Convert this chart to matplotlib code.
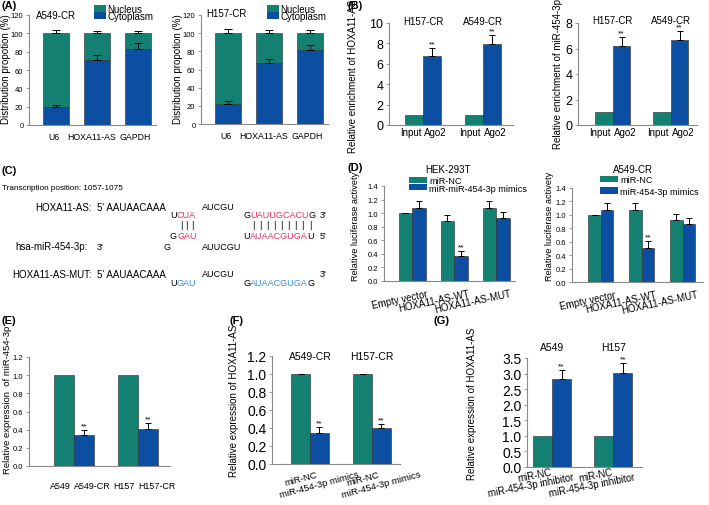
import matplotlib
matplotlib.use('Agg')
import matplotlib.pyplot as plt
from matplotlib.patches import Patch
from matplotlib.transforms import ScaledTranslation
import numpy as np

plt.rcParams['font.family'] = ['Liberation Sans', 'DejaVu Sans']

TEAL = '#138072'
BLUE = '#0b4ea2'
EDGE = '#2a2a2a'
AXC = '#8a8a8a'
RED = '#e63462'
LBLUE = '#3b8fdc'

# ---- data ----
# (A) nuclear / cytoplasmic fractionation (% cytoplasm, rest nucleus)
frac_genes = ['U6', 'HOXA11-AS', 'GAPDH']
a549_cyto = [20, 71, 83]
a549_cyto_err = [2, 5, 6]
a549_total_err = [4, 3, 3]
h157_cyto = [22, 67, 81]
h157_cyto_err = [3, 5, 6]
h157_total_err = [5, 4, 4]

# (B) RIP assay
rip_cells = ['H157-CR', 'A549-CR']
rip_groups = ['Input', 'Ago2']
rip_input = [1, 1]
hoxa_ago2 = [6.8, 7.9]
hoxa_ago2_err = [0.75, 0.9]
mir_ago2 = [6.2, 6.65]
mir_ago2_err = [0.7, 0.75]

# (D) luciferase reporter
luc_constructs = ['Empty vector', 'HOXA11-AS-WT', 'HOXA11-AS-MUT']
hek_nc = [1.0, 0.88, 1.07]
hek_nc_err = [0.0, 0.10, 0.11]
hek_mimic = [1.07, 0.37, 0.93]
hek_mimic_err = [0.11, 0.07, 0.09]
a549_nc = [1.0, 1.07, 0.92]
a549_nc_err = [0.0, 0.11, 0.10]
a549_mimic = [1.07, 0.51, 0.86]
a549_mimic_err = [0.11, 0.10, 0.09]

# (E) miR-454-3p in parental vs resistant
parent_cells = ['A549', 'H157']
resist_cells = ['A549-CR', 'H157-CR']
mir_parent = [1.0, 1.0]
mir_resist = [0.34, 0.41]
mir_resist_err = [0.06, 0.06]

# (F) HOXA11-AS after mimics
f_cells = ['A549-CR', 'H157-CR']
f_nc = [1.0, 1.0]
f_nc_err = [0.005, 0.005]
f_mimic = [0.35, 0.40]
f_mimic_err = [0.06, 0.05]

# (G) HOXA11-AS after inhibitor
g_cells = ['A549', 'H157']
g_nc = [1.0, 1.0]
g_inhib = [2.82, 3.03]
g_inhib_err = [0.3, 0.32]

W, H = 709, 506
fig = plt.figure(figsize=(W / 100, H / 100), dpi=100)
tax = fig.add_axes([0, 0, 1, 1])
tax.axis('off')


def px_axes(x0, y0, x1, y1):
    return fig.add_axes([x0 / W, 1 - y1 / H, (x1 - x0) / W, (y1 - y0) / H])


def ftext(x, y, s, **kw):
    kw.setdefault('va', 'center')
    return fig.text(x / W, 1 - y / H, s, **kw)


def style(ax, ylim, yticks, fmt, fs):
    for s in ('top', 'right'):
        ax.spines[s].set_visible(False)
    for s in ('left', 'bottom'):
        ax.spines[s].set_color(AXC)
        ax.spines[s].set_linewidth(0.8)
    ax.set_ylim(*ylim)
    ax.set_yticks(yticks)
    ax.set_yticklabels([fmt % v for v in yticks])
    ax.tick_params(axis='y', length=2.5, width=0.6, color=AXC, labelsize=fs, pad=1.5)
    ax.tick_params(axis='x', length=0, pad=2)
    ax.patch.set_alpha(0)


def err(ax, x, y, e, cap=2.5):
    ax.errorbar(x, y, yerr=[np.zeros(len(e)), e], fmt='none', ecolor='black',
                elinewidth=0.7, capsize=cap, capthick=0.7)


def stars(ax, x, y, e, pad, fs=6):
    for xi, yi, ei in zip(x, y, e):
        ax.text(xi, yi + ei + pad, '**', ha='center', va='bottom', fontsize=fs)


def legend(x, y, labels, fs, hl, hh, sp):
    hs = [Patch(facecolor=TEAL, edgecolor='none'), Patch(facecolor=BLUE, edgecolor='none')]
    fig.legend(hs, labels, loc='upper left', bbox_to_anchor=(x / W, 1 - y / H),
               frameon=False, fontsize=fs, handlelength=hl, handleheight=hh,
               handletextpad=0.2, labelspacing=sp, borderpad=0, borderaxespad=0)


def nudge(labels, dx, dy=0):
    for lab in labels:
        lab.set_transform(lab.get_transform() + ScaledTranslation(dx / 100, dy / 100, fig.dpi_scale_trans))


def split_labels(ax, g, left, right, dy, fs, gap_l=-3, gap_r=0):
    # pair of labels meeting at the boundary between the two bars of a group
    for gi, a, b in zip(g, left, right):
        ax.annotate(a, xy=(gi, 0), xycoords=('data', 'axes fraction'), xytext=(gap_l, -dy),
                    textcoords='offset pixels', ha='right', va='center', fontsize=fs)
        ax.annotate(b, xy=(gi, 0), xycoords=('data', 'axes fraction'), xytext=(gap_r, -dy),
                    textcoords='offset pixels', ha='left', va='center', fontsize=fs)


# ---------- (A) ----------
def frac_panel(box, cyto, cyto_err, tot_err, title, tx, ty, leg_x):
    ax = px_axes(*box)
    x = np.arange(len(frac_genes))
    cyto = np.array(cyto)
    nuc = 100 - cyto
    ax.bar(x, cyto, 0.63, color=BLUE, edgecolor=EDGE, lw=0.4)
    ax.bar(x, nuc, 0.63, bottom=cyto, color=TEAL, edgecolor=EDGE, lw=0.4)
    err(ax, x, cyto, cyto_err, 3)
    err(ax, x, cyto + nuc, tot_err, 3)
    ax.set_xlim(-0.66, 2.44)
    style(ax, (0, 120), list(range(0, 121, 20)), '%d', 5.5)
    ax.set_xticks(x)
    labs = ax.set_xticklabels(frac_genes, fontsize=6.3)
    ax.tick_params(axis='x', pad=5)
    nudge(labs[:1], -2)
    nudge(labs[1:2], -5)
    nudge(labs[2:], -3)
    ftext(tx, ty, title, fontsize=7, ha='center')
    legend(leg_x, 5, ['Nucleus', 'Cytoplasm'], 7, 1.2, 0.7, -0.3)
    return ax


frac_panel((29, 16, 156, 126), a549_cyto, a549_cyto_err, a549_total_err, 'A549-CR', 56, 16, 94)
frac_panel((201, 16, 328, 125), h157_cyto, h157_cyto_err, h157_total_err, 'H157-CR', 226, 14, 267)
ftext(6, 69, 'Distribution propotion (%)', rotation=90, ha='center', fontsize=7)
ftext(178, 69, 'Distribution propotion (%)', rotation=90, ha='center', fontsize=7)


# ---------- (B) ----------
def rip_panel(box, xlim, ago2, ago2_err, ymax, title_y):
    ax = px_axes(*box)
    g = np.arange(len(rip_cells))
    w = 0.3
    ax.bar(g - w / 2, rip_input, w, color=TEAL, edgecolor=EDGE, lw=0.4)
    ax.bar(g + w / 2, ago2, w, color=BLUE, edgecolor=EDGE, lw=0.4)
    err(ax, g + w / 2, ago2, ago2_err, 2.5)
    stars(ax, g + w / 2, ago2, ago2_err, ymax * 0.005)
    ax.set_xlim(*xlim)
    style(ax, (0, ymax), list(range(0, ymax + 1, 2)), '%d', 9)
    ax.set_xticks([])
    split_labels(ax, g, [rip_groups[0]] * len(g), [rip_groups[1]] * len(g), 7, 7, -2, 1)
    for gi, name in zip(g, rip_cells):
        ax.text(gi, ymax * title_y, name, ha='center', va='center', fontsize=7, clip_on=False)
    return ax


rip_panel((389, 24, 513, 126), (-0.57, 1.5), hoxa_ago2, hoxa_ago2_err, 10, 1.02)
rip_panel((578, 24, 697, 126), (-0.6, 1.45), mir_ago2, mir_ago2_err, 8, 1.03)
ftext(353, 76, 'Relative enrichment of HOXA11-AS', rotation=90, ha='center', fontsize=7)
ftext(558, 74, 'Relative enrichment of miR-454-3p', rotation=90, ha='center', fontsize=7)


# ---------- (C) sequence alignment ----------
def seq(x, y, parts, fs=6.5):
    t = ftext(x, y, parts[0][0], color=parts[0][1], fontsize=fs, ha='left')
    for s, c in parts[1:]:
        t = tax.annotate(s, xy=(1, 0), xycoords=t, ha='left', va='bottom',
                         color=c, fontsize=fs)
    return t


k = 'black'
ftext(2, 189, 'Transcription position: 1057-1075', fontsize=5.9, ha='left')
ftext(92, 208, 'HOXA11-AS:', fontsize=7, ha='right')
seq(97, 208, [("5' AAUAACAAA", k)], 7)
seq(202, 208, [('AUCGU', k)])
seq(170, 216, [('U', k), ('CUA', RED)])
seq(243, 216, [('G', k), ('UAUUGCACU', RED), ('G', k)])
seq(320, 216, [("3'", k)])
for bx in (181, 186.5, 192):
    ftext(bx, 226, '|', fontsize=6.8, ha='center')
for bx in np.linspace(253, 310, 9):
    ftext(bx, 226, '|', fontsize=6.8, ha='center')
seq(170, 237, [('G', k), ('GAU', RED)])
seq(243, 237, [('U', k), ('AUAACGUGA', RED), ('U', k)])
seq(320, 237, [("5'", k)])
ftext(88, 247, 'hsa-miR-454-3p:', fontsize=7, ha='right')
seq(97, 247, [("3'", k)])
seq(163, 247, [('G', k)])
seq(202, 247, [('AUUCGU', k)])
ftext(92, 275, 'HOXA11-AS-MUT:', fontsize=7, ha='right')
seq(97, 275, [("5' AAUAACAAA", k)], 7)
seq(202, 275, [('AUCGU', k)])
seq(320, 275, [("3'", k)])
seq(170, 283, [('U', k), ('GAU', LBLUE)])
seq(243, 283, [('G', k), ('AUAACGUGA', LBLUE), ('G', k)])


# ---------- (D) ----------
def luc_panel(box, xlim, w, nc, nc_err, mim, mim_err, title, tx, leg_xy, labels, sp):
    ax = px_axes(*box)
    g = np.arange(len(luc_constructs))
    ax.bar(g - w / 2, nc, w, color=TEAL, edgecolor=EDGE, lw=0.4)
    ax.bar(g + w / 2, mim, w, color=BLUE, edgecolor=EDGE, lw=0.4)
    err(ax, g - w / 2, nc, nc_err, 2.5)
    err(ax, g + w / 2, mim, mim_err, 2.5)
    stars(ax, [g[1] + w / 2], [mim[1]], [mim_err[1]], 0.01)
    ax.set_xlim(*xlim)
    style(ax, (0, 1.4), [0, 0.2, 0.4, 0.6, 0.8, 1.0, 1.2, 1.4], '%.1f', 5.5)
    ax.set_xticks(g)
    labs = ax.set_xticklabels(luc_constructs, fontsize=7, rotation=12, ha='right',
                              rotation_mode='anchor')
    ax.tick_params(axis='x', pad=5)
    nudge(labs, 14)
    ftext(tx, 170, title, fontsize=7, ha='center')
    legend(leg_xy[0], leg_xy[1], labels, 6.6, 2.0, 0.65, sp)
    return ax


luc_panel((384, 187, 515, 282), (-0.67, 2.45), 0.32, hek_nc, hek_nc_err, hek_mimic,
          hek_mimic_err, 'HEK-293T', 448, (409, 177), ['miR-NC', 'miR-miR-454-3p mimics'], -0.15)
luc_panel((572, 189, 703, 283), (-0.7, 2.5), 0.3, a549_nc, a549_nc_err, a549_mimic,
          a549_mimic_err, 'A549-CR', 633, (600, 176), ['miR-NC', 'miR-454-3p mimics'], 0.3)
ftext(356, 226, 'Relative luciferase activety', rotation=90, ha='center', fontsize=6.6)
ftext(550, 226, 'Relative luciferase activety', rotation=90, ha='center', fontsize=6.6)

# ---------- (E) ----------
axE = px_axes(29, 358, 170, 467)
g = np.arange(len(parent_cells))
w = 0.31
axE.bar(g - w / 2, mir_parent, w, color=TEAL, edgecolor=EDGE, lw=0.4)
axE.bar(g + w / 2, mir_resist, w, color=BLUE, edgecolor=EDGE, lw=0.4)
err(axE, g + w / 2, mir_resist, mir_resist_err, 2.5)
stars(axE, g + w / 2, mir_resist, mir_resist_err, 0.005)
axE.set_xlim(-0.7, 1.5)
style(axE, (0, 1.2), [0, 0.2, 0.4, 0.6, 0.8, 1.0, 1.2], '%.1f', 5.5)
axE.set_xticks([])
split_labels(axE, g, parent_cells, resist_cells, 20, 6.4, -3, 0)
ftext(8, 400, 'Relative expression  of miR-454-3p', rotation=90, ha='center', fontsize=6.8)

# ---------- (F) ----------
axF = px_axes(272, 357, 400, 465)
g = np.arange(len(f_cells))
w = 0.3
axF.bar(g - w / 2, f_nc, w, color=TEAL, edgecolor=EDGE, lw=0.4)
axF.bar(g + w / 2, f_mimic, w, color=BLUE, edgecolor=EDGE, lw=0.4)
err(axF, g - w / 2, f_nc, f_nc_err, 2.5)
err(axF, g + w / 2, f_mimic, f_mimic_err, 2.5)
stars(axF, g + w / 2, f_mimic, f_mimic_err, 0.005)
axF.set_xlim(-0.61, 1.45)
style(axF, (0, 1.2), [0, 0.2, 0.4, 0.6, 0.8, 1.0, 1.2], '%.1f', 10)
axF.set_xticks(np.concatenate([g - w / 2, g + w / 2]))
axF.set_xticklabels(['miR-NC'] * 2 + ['miR-454-3p mimics'] * 2, fontsize=6.8, rotation=15,
                    ha='center')
axF.tick_params(axis='x', pad=4)
for gi, name in zip(g, f_cells):
    axF.text(gi, 1.2, name, ha='center', va='center', fontsize=7.5, clip_on=False)
ftext(234, 401, 'Relative expression of HOXA11-AS', rotation=90, ha='center', fontsize=7)

# ---------- (G) ----------
axG = px_axes(527, 359, 642, 468)
g = np.arange(len(g_cells))
w = 0.31
axG.bar(g - w / 2, g_nc, w, color=TEAL, edgecolor=EDGE, lw=0.4)
axG.bar(g + w / 2, g_inhib, w, color=BLUE, edgecolor=EDGE, lw=0.4)
err(axG, g + w / 2, g_inhib, g_inhib_err, 2.5)
stars(axG, g + w / 2, g_inhib, g_inhib_err, 0.01)
axG.set_xlim(-0.41, 1.47)
style(axG, (0, 3.5), [0, 0.5, 1.0, 1.5, 2.0, 2.5, 3.0, 3.5], '%.1f', 10)
axG.set_xticks(np.concatenate([g - w / 2, g + w / 2]))
labs = axG.set_xticklabels(['miR-NC'] * 2 + ['miR-454-3p inhibitor'] * 2, fontsize=7,
                           rotation=11, ha='right', rotation_mode='anchor')
axG.tick_params(axis='x', pad=2)
nudge(labs[:2], 8, 3)
nudge(labs[2:], 11, -2)
for gi, name in zip(g, g_cells):
    axG.annotate(name, xy=(gi, 1), xycoords=('data', 'axes fraction'), xytext=(0, 11),
                 textcoords='offset pixels', ha='center', va='center', fontsize=7.5)
ftext(472, 404, 'Relative expression of HOXA11-AS', rotation=90, ha='center', fontsize=7)

# ---------- panel letters ----------
for lx, ly, s in [(1, 1, '(A)'), (347, 1, '(B)'), (1, 166, '(C)'), (347, 163, '(D)'),
                  (1, 316, '(E)'), (229, 316, '(F)'), (433, 316, '(G)')]:
    ftext(lx, ly, s, fontsize=8, fontweight='bold', ha='left', va='top')

fig.savefig('out.png', dpi=100)
